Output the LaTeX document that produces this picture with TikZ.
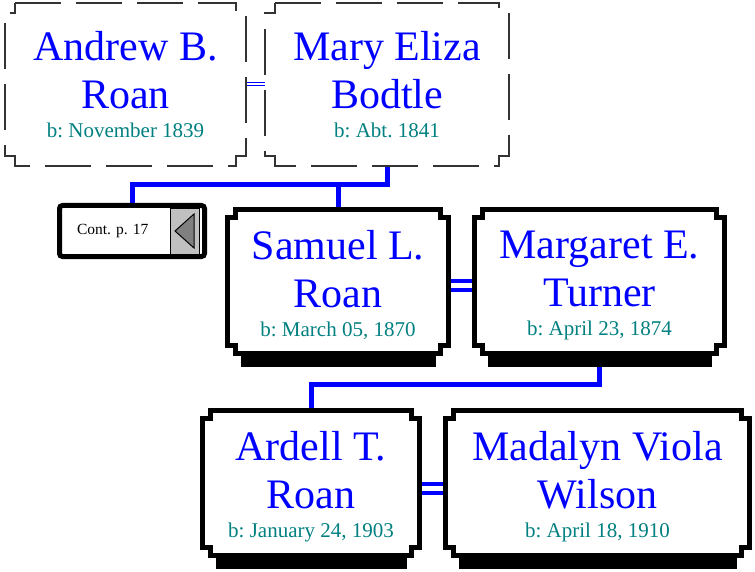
\documentclass[tikz,border=0pt]{standalone}
\usepackage{fontspec}
\setmainfont{Liberation Serif}
\usepackage{xcolor}
\usetikzlibrary{calc,positioning,backgrounds}
\definecolor{namecol}{RGB}{0,0,255}
\definecolor{datecol}{RGB}{0,128,128}
\definecolor{btngray}{RGB}{192,192,192}
\frenchspacing
\newcommand{\bdate}[1]{{\fontsize{21}{25}\selectfont\color{datecol}#1}}
\newcommand{\tallstrut}{\rule{0pt}{36pt}}
% notched outline round a box node: #1 node, #2 notch, #3 style
\newcommand{\notchbox}[3]{%
  \draw[#3] ($(#1.north west)+(#2,0)$) -- ($(#1.north east)+(-#2,0)$) -- ++(0,#2) -- ++(#2,0)
    -- ($(#1.south east)+(0,-#2)$) -- ++(-#2,0) -- ++(0,#2)
    -- ($(#1.south west)+(#2,0)$) -- ++(0,-#2) -- ++(-#2,0)
    -- ($(#1.north west)+(0,#2)$) -- ++(#2,0) -- cycle;}
% black bar under a box
\newcommand{\boxshadow}[1]{%
  \fill[black] ($(#1.south west)+(13,0)$) rectangle ($(#1.south east)+(-13,13.5)$);}

\begin{document}
\begin{tikzpicture}[
    x=1pt, y=-1pt,
    % Stili base
    person/.style={rectangle, outer sep=0pt, inner sep=0pt, align=center, text=namecol, font=\fontsize{42}{48}\selectfont},
    solidline/.style={draw=black, fill=white, line width=5pt},
    dashline/.style={draw=black!80, fill=white, line width=1.5pt, dash pattern=on 46pt off 15pt},
    contbox/.style={rectangle, draw=black, fill=white, line width=5pt, rounded corners=3pt, outer sep=0pt, inner xsep=17.5pt, inner ysep=0pt, text width=110pt, align=left, minimum height=51pt, font=\fontsize{15.5}{18}\selectfont},
    % Linee
    famline/.style={draw=namecol, line width=5pt},
    wedthin/.style={draw=namecol, line width=1pt, double=white, double distance=2pt},
    wedthick/.style={draw=namecol, line width=4pt, double=white, double distance=5pt}
]
\path[use as bounding box] (0,0) rectangle (755,572);

% === GENITORI ===
\node[person, minimum width=241pt, minimum height=163pt] (andrew) at (125.5,84.5) {Andrew B.\\Roan\\[-19pt]\bdate{b: November 1839}};
\node[person, minimum width=244pt, minimum height=163pt] (mary) at (387,84.5) {Mary Eliza\\Bodtle\\[-19pt]\bdate{b: Abt. 1841}};

% === FIGLI ===
\node[person, minimum width=221pt, minimum height=144pt] (samuel) at (338,281.5) {\tallstrut Samuel L.\\Roan\\[-19pt]\bdate{b: March 05, 1870}};
\node[person, minimum width=250pt, minimum height=144pt] (margaret) at (599.5,281.5) {\tallstrut Margaret E.\\Turner\\[-19pt]\bdate{b: April 23, 1874}};

% === NIPOTI ===
\node[person, minimum width=217pt, minimum height=145pt] (ardell) at (311,483) {\tallstrut Ardell T.\\Roan\\[-19pt]\bdate{b: January 24, 1903}};
\node[person, minimum width=304pt, minimum height=145pt] (madalyn) at (597.5,483) {\tallstrut Madalyn Viola\\Wilson\\[-19pt]\bdate{b: April 18, 1910}};

% === CONTINUA ===
\node[contbox] (cont) at (132,231) {Cont. p. 17};
\fill[btngray, draw=black, line width=0.8pt] ($(cont.east)+(-34.5,-23)$) rectangle ($(cont.east)+(-5.5,23)$);
\filldraw[fill=black!50, draw=black, line width=1pt] ($(cont.east)+(-29.5,0)$) -- ($(cont.east)+(-10.5,-17)$) -- ($(cont.east)+(-10.5,17)$) -- cycle;

\begin{scope}[on background layer]
    \fill[white] (0,0) rectangle (755,572);
    % Connessioni
    \draw[famline] (mary.south) -- ++(0,19) coordinate (fam1) -| (cont.north);
    \draw[famline] (samuel.north) -- (samuel.north |- fam1);
    \draw[famline] (margaret.south) -- ++(0,31) coordinate (fam2) -| (ardell.north);
    \draw[wedthin] (andrew.east) -- (mary.west);
    \draw[wedthick] ($(samuel.east)+(0,4)$) -- ($(margaret.west)+(0,4)$);
    \draw[wedthick] ($(ardell.east)+(0,5)$) -- ($(madalyn.west)+(0,5)$);
    % Ombre e bordi
    \foreach \p in {samuel, margaret, ardell, madalyn} {\boxshadow{\p}}
    \notchbox{andrew}{10}{dashline}
    \notchbox{mary}{10}{dashline}
    \foreach \p in {samuel, margaret, ardell, madalyn} {\notchbox{\p}{8}{solidline}}
\end{scope}

\end{tikzpicture}
\end{document}
